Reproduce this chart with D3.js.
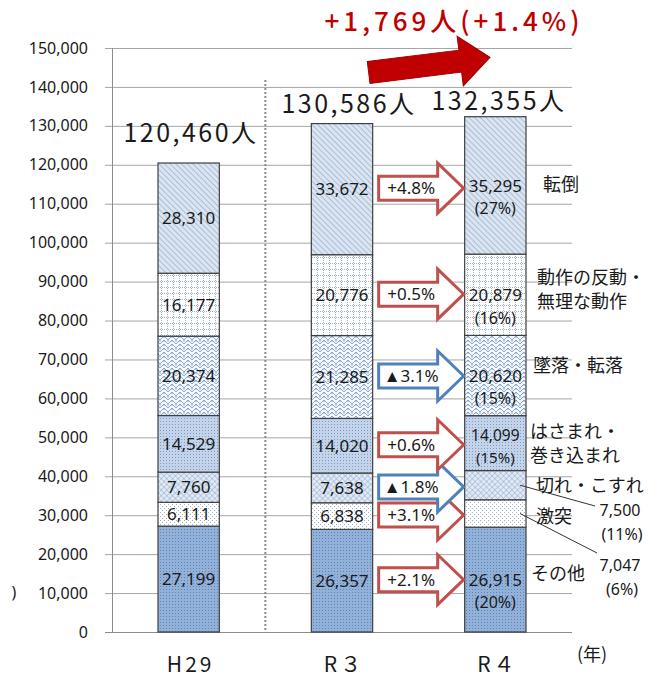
<!DOCTYPE html>
<html>
<head>
<meta charset="utf-8">
<script src="https://cdn.jsdelivr.net/npm/d3@7"></script>
<style>
  body { margin: 0; background: #fff; }
  svg { display: block; }
  text { font-family: "Noto Sans", sans-serif; fill: #1a1a1a; }
  .jp { font-family: "Noto Sans CJK JP", sans-serif; }
</style>
</head>
<body>
<svg width="650" height="677"></svg>
<script>
const svg = d3.select("svg");

// data
const years = ["H29", "R３", "R４"];
const causes = ["その他", "激突", "切れ・こすれ", "はさまれ・巻き込まれ", "墜落・転落", "動作の反動・無理な動作", "転倒"];
const h29 = [27199, 6111, 7760, 14529, 20374, 16177, 28310];
const r3 = [26357, 6838, 7638, 14020, 21285, 20776, 33672];
const r4 = [26915, 7047, 7500, 14099, 20620, 20879, 35295];
const shares = ["(20%)", "(6%)", "(11%)", "(15%)", "(15%)", "(16%)", "(27%)"];
const changes = ["+2.1%", "+3.1%", "▲1.8%", "+0.6%", "▲3.1%", "+0.5%", "+4.8%"];
const yTicks = d3.range(0, 150001, 10000);
const headline = "+1,769人(+1.4%)";

const series = [h29, r3, r4];
const patternIds = ["p-other", "p-hit", "p-cut", "p-caught", "p-fall", "p-motion", "p-trip"];

const x = d3.scaleBand().domain(years).range([112, 572]).paddingInner(0.6).paddingOuter(0.3);
const y = d3.scaleLinear().domain([0, 150000]).range([632, 48]);
const bw = x.bandwidth();

// patterns
const defs = svg.append("defs");
function pat(id, w, h, bg, transform) {
  const p = defs.append("pattern").attr("id", id).attr("patternUnits", "userSpaceOnUse")
    .attr("width", w).attr("height", h);
  if (transform) p.attr("patternTransform", transform);
  p.append("rect").attr("width", w).attr("height", h).attr("fill", bg);
  return p;
}
// その他
let p = pat("p-other", 3, 3, "#92b1d9");
p.append("rect").attr("x", 1).attr("y", 1).attr("width", 1).attr("height", 1).attr("fill", "#5f84b8");
// 激突
p = pat("p-hit", 4, 4, "#fff");
p.append("rect").attr("x", 0).attr("y", 0).attr("width", 1).attr("height", 1).attr("fill", "#9fb3d1");
p.append("rect").attr("x", 2).attr("y", 2).attr("width", 1).attr("height", 1).attr("fill", "#9fb3d1");
// 切れ・こすれ
p = pat("p-cut", 4, 4, "#e2eaf5", "rotate(45)");
p.append("path").attr("d", "M0,0H4M0,0V4").attr("stroke", "#8ea8cd").attr("stroke-width", 1);
// はさまれ
p = pat("p-caught", 3, 3, "#c3d4ea");
p.append("rect").attr("x", 1).attr("y", 1).attr("width", 1).attr("height", 1).attr("fill", "#7c9bc7");
// 墜落・転落
p = pat("p-fall", 8, 8, "#f4f7fb");
p.append("path").attr("d", "M0,4L4,0L8,4M0,8L4,4L8,8M4,0V2M0,4V6M8,4V6M4,4V6")
  .attr("stroke", "#7f9fcf").attr("fill", "none").attr("stroke-width", 0.9);
// 動作の反動
p = pat("p-motion", 6, 6, "#fff");
p.append("path").attr("d", "M0,5.5H6M5.5,0V6").attr("stroke", "#9fb2cf").attr("stroke-dasharray", "1,1");
// 転倒
p = pat("p-trip", 4, 4, "#dbe5f1", "rotate(-45)");
p.append("line").attr("x1", 0).attr("y1", 0).attr("x2", 0).attr("y2", 4).attr("stroke", "#8aa3c6").attr("stroke-width", 1.2);

// grid + axis
svg.append("g").selectAll("line").data(yTicks).join("line")
  .attr("x1", 105).attr("x2", 572)
  .attr("y1", d => y(d) + 0.5).attr("y2", d => y(d) + 0.5)
  .attr("stroke", d => d === 0 ? "#8c8c8c" : "#a6a6a6").attr("stroke-width", 1);
svg.append("line").attr("x1", 112.5).attr("x2", 112.5).attr("y1", y(150000)).attr("y2", y(0))
  .attr("stroke", "#8c8c8c");
svg.append("g").selectAll("text").data(yTicks).join("text")
  .attr("x", 88).attr("y", d => y(d)).attr("dy", "0.35em")
  .attr("text-anchor", "end").attr("font-size", 16).attr("fill", "#333")
  .text(d => d3.format(",")(d));

// separator
svg.append("line")
  .attr("x1", (x("H29") + bw + x("R３")) / 2).attr("x2", (x("H29") + bw + x("R３")) / 2)
  .attr("y1", 80).attr("y2", y(0))
  .attr("stroke", "#8c8c8c").attr("stroke-width", 2).attr("stroke-dasharray", "2,2");

// stacked bars
const stacks = series.map(vals => {
  let acc = 0;
  return vals.map((v, i) => { const s = { v, y0: acc, y1: acc + v, i }; acc += v; return s; });
});

const groups = svg.append("g").selectAll("g").data(years).join("g");
groups.each(function (yr, k) {
  const g = d3.select(this);
  g.selectAll("rect").data(stacks[k]).join("rect")
    .attr("x", x(yr)).attr("width", bw)
    .attr("y", d => y(d.y1)).attr("height", d => y(d.y0) - y(d.y1))
    .attr("fill", d => `url(#${patternIds[d.i]})`)
    .attr("stroke", "#3f3f3f").attr("stroke-width", 1.2);
});

// values inside bars
const cx = yr => x(yr) + bw / 2;
[0, 1].forEach(k => {
  svg.append("g").selectAll("text").data(stacks[k]).join("text")
    .attr("x", cx(years[k])).attr("y", d => y((d.y0 + d.y1) / 2)).attr("dy", "0.36em")
    .attr("text-anchor", "middle").attr("font-size", 17)
    .text(d => d3.format(",")(d.v));
});
const r4in = stacks[2].filter(d => d.i !== 1 && d.i !== 2);
svg.append("g").selectAll("text").data(r4in).join("text")
  .attr("x", cx(years[2])).attr("y", d => y((d.y0 + d.y1) / 2) - (d.i === 3 ? 8 : 0)).attr("dy", "0.36em")
  .attr("text-anchor", "middle").attr("font-size", d => d.i === 3 ? 15.5 : 17)
  .text(d => d3.format(",")(d.v));
svg.append("g").selectAll("text").data(r4in).join("text")
  .attr("x", cx(years[2])).attr("y", d => y((d.y0 + d.y1) / 2) + (d.i === 3 ? 14 : 23)).attr("dy", "0.36em")
  .attr("text-anchor", "middle").attr("font-size", d => d.i === 3 ? 15 : 16)
  .text(d => shares[d.i]);

// outside labels for small R4 segments
const outside = [
  { d: stacks[2][2], lx: 595, ly: 506, tx: 620, ty: 510 },
  { d: stacks[2][1], lx: 597, ly: 553, tx: 620, ty: 565 }
];
outside.forEach(o => {
  const sy = y((o.d.y0 + o.d.y1) / 2);
  svg.append("line").attr("x1", x(years[2]) + bw - 6).attr("y1", sy)
    .attr("x2", o.lx).attr("y2", o.ly).attr("stroke", "#333").attr("stroke-width", 1);
  svg.append("text").attr("x", o.tx).attr("y", o.ty).attr("dy", "0.36em")
    .attr("text-anchor", "middle").attr("font-size", 16).text(d3.format(",")(o.d.v));
  svg.append("text").attr("x", o.tx + 2).attr("y", o.ty + 24).attr("dy", "0.36em")
    .attr("text-anchor", "middle").attr("font-size", 16).text(shares[o.d.i]);
});

// change arrows between R3 and R4
function arrowPath(x0, x1, cy, bh, hh, hl) {
  const xh = x1 - hl;
  return `M${x0},${cy - bh}H${xh}V${cy - hh}L${x1},${cy}L${xh},${cy + hh}V${cy + bh}H${x0}Z`;
}
const ax0 = x(years[1]) + bw + 6, ax1 = x(years[2]) - 1;
const arrows = stacks[1].map((d, i) => ({ cy: y((d.y0 + d.y1) / 2), i, neg: changes[i].startsWith("▲") }));
svg.append("g").selectAll("path").data(arrows).join("path")
  .attr("d", a => arrowPath(ax0, ax1, a.cy - 1, 12, 25, 26))
  .attr("fill", "#fff").attr("stroke", a => a.neg ? "#4f81bd" : "#c0504d").attr("stroke-width", 3);
svg.append("g").selectAll("text").data(arrows).join("text")
  .attr("x", (ax0 + ax1 - 26) / 2 + 3).attr("y", a => a.cy - 1).attr("dy", "0.36em")
  .attr("text-anchor", "middle").attr("font-size", 17)
  .text(a => changes[a.i]);

// category labels on right
const catLabels = [
  { i: 6, lines: ["転倒"], x: 543, y: 185 },
  { i: 5, lines: ["動作の反動・", "無理な動作"], x: 537, y: 278 },
  { i: 4, lines: ["墜落・転落"], x: 533, y: 366 },
  { i: 3, lines: ["はさまれ・", "巻き込まれ"], x: 530, y: 432 },
  { i: 2, lines: ["切れ・こすれ"], x: 536, y: 486 },
  { i: 1, lines: ["激突"], x: 536, y: 517 },
  { i: 0, lines: ["その他"], x: 531, y: 574 }
];
catLabels.forEach(c => {
  const t = svg.append("text").attr("class", "jp").attr("x", c.x).attr("y", c.y).attr("font-size", 18).attr("dy", "0.36em");
  c.lines.forEach((ln, j) => t.append("tspan").attr("x", c.x).attr("dy", j === 0 ? "0.36em" : 24).text(ln));
});

// totals
const totals = series.map(v => d3.sum(v));
const totalPos = [{ x: 191, y: 133 }, { x: 349, y: 104 }, { x: 499, y: 101 }];
svg.append("g").selectAll("text").data(totals).join("text")
  .attr("class", "jp").attr("x", (d, k) => totalPos[k].x).attr("y", (d, k) => totalPos[k].y)
  .attr("dy", "0.36em").attr("text-anchor", "middle").attr("font-size", 25).attr("letter-spacing", 2.5)
  .text(d => d3.format(",")(d) + "人");

// x labels
svg.append("g").selectAll("text").data(years).join("text")
  .attr("class", "jp").attr("x", d => cx(d) + 2).attr("y", 664).attr("dy", "0.36em")
  .attr("text-anchor", "middle").attr("font-size", 21).attr("letter-spacing", 3)
  .text(d => d);
svg.append("text").attr("class", "jp").attr("x", 592).attr("y", 655).attr("dy", "0.36em")
  .attr("text-anchor", "middle").attr("font-size", 18).text("(年)");
svg.append("text").attr("x", 14).attr("y", 592).attr("dy", "0.36em")
  .attr("text-anchor", "middle").attr("font-size", 16).text(")");

// big red arrow + headline
const bx0 = x(years[1]) + bw - 4, by0 = y(143700), bx1 = x(years[2]) + bw - 36, by1 = y(147600);
const ang = Math.atan2(by1 - by0, bx1 - bx0) * 180 / Math.PI;
const len = Math.hypot(bx1 - bx0, by1 - by0);
svg.append("path")
  .attr("d", arrowPath(0, len, 0, 11, 25, 30))
  .attr("transform", `translate(${bx0},${by0}) rotate(${ang})`)
  .attr("fill", "#c00000").attr("stroke", "#a00000").attr("stroke-width", 1);
svg.append("text").attr("class", "jp").attr("x", 454).attr("y", 22).attr("dy", "0.36em")
  .attr("text-anchor", "middle").attr("font-size", 26).attr("letter-spacing", 4)
  .attr("font-weight", 500).style("fill", "#c00000")
  .text(headline);
</script>
</body>
</html>
